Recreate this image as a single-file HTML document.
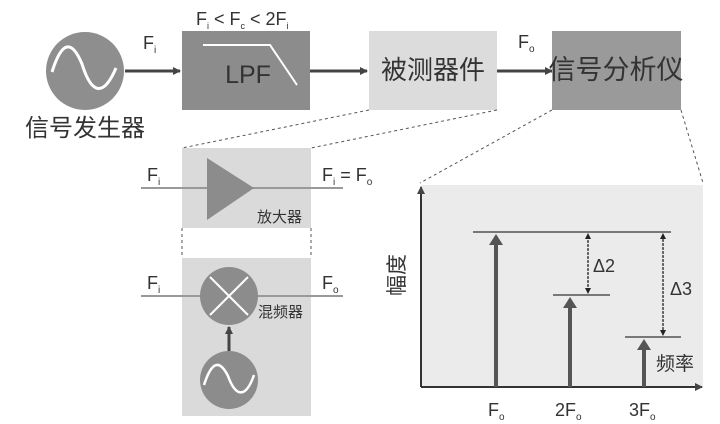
<!DOCTYPE html>
<html><head><meta charset="utf-8"><style>
body{margin:0;background:#fff;}
svg{display:block;font-family:"Liberation Sans","Noto Sans CJK SC",sans-serif;}
</style></head><body>
<svg width="720" height="424" viewBox="0 0 720 424" xmlns="http://www.w3.org/2000/svg">
<defs>
<marker id="ah" markerWidth="8" markerHeight="8" refX="7" refY="4" orient="auto" markerUnits="userSpaceOnUse"><path d="M0,0 L8,4 L0,8 z" fill="#444"/></marker>
<marker id="sa" markerWidth="6" markerHeight="6" refX="3" refY="3" orient="auto" markerUnits="userSpaceOnUse"><path d="M0,0 L6,3 L0,6 z" fill="#222"/></marker>
</defs>
<circle cx="85" cy="71" r="39" fill="#8e8e8e"/>
<path d="M52,72 C62,40 72,40 82,64 C92,96 104,96 116,68" stroke="#fff" stroke-width="3" fill="none"/>
<text x="85" y="136" font-size="24" fill="#333" text-anchor="middle">信号发生器</text>
<line x1="125" y1="71" x2="180" y2="71" stroke="#444" stroke-width="3" marker-end="url(#ah)"/>
<text x="143" y="49" font-size="18" fill="#333">F<tspan font-size="10" dy="4">i</tspan></text>
<rect x="182" y="31" width="128" height="79" fill="#8c8c8c"/>
<text x="196" y="25" font-size="18" fill="#333">F<tspan font-size="9" dy="4">i</tspan><tspan dy="-4"> &lt; F</tspan><tspan font-size="9" dy="4">c</tspan><tspan dy="-4"> &lt; 2F</tspan><tspan font-size="9" dy="4">i</tspan></text>
<path d="M203,45 L270,45 L297,85" stroke="#fff" stroke-width="2" fill="none"/>
<text x="248" y="83" font-size="25" fill="#333" text-anchor="middle">LPF</text>
<line x1="310" y1="71" x2="367" y2="71" stroke="#444" stroke-width="3" marker-end="url(#ah)"/>
<rect x="369" y="31" width="128" height="79" fill="#dcdcdc"/>
<text x="433" y="79" font-size="26" fill="#333" text-anchor="middle">被测器件</text>
<line x1="497" y1="71" x2="552" y2="71" stroke="#444" stroke-width="3" marker-end="url(#ah)"/>
<text x="518" y="48" font-size="18" fill="#333">F<tspan font-size="10" dy="4">o</tspan></text>
<rect x="552" y="31" width="129" height="79" fill="#9a9a9a"/>
<text x="616" y="79" font-size="27" fill="#333" text-anchor="middle">信号分析仪</text>
<g stroke="#555" stroke-width="1" stroke-dasharray="3,3" fill="none">
<line x1="369" y1="110" x2="182" y2="148"/>
<line x1="497" y1="110" x2="311" y2="148"/>
<line x1="552" y1="110" x2="420" y2="183"/>
<line x1="681" y1="110" x2="703" y2="183"/>
<line x1="182" y1="228" x2="182" y2="258"/>
<line x1="311" y1="228" x2="311" y2="258"/>
</g>
<rect x="182" y="148" width="129" height="80" fill="#dadada"/>
<line x1="141" y1="188" x2="343" y2="188" stroke="#999" stroke-width="2"/>
<path d="M207,158 L207,220 L254,188 z" fill="#8c8c8c"/>
<text x="257" y="222" font-size="15" fill="#333">放大器</text>
<text x="147" y="181" font-size="18" fill="#333">F<tspan font-size="10" dy="4">i</tspan></text>
<text x="322" y="181" font-size="18" fill="#333">F<tspan font-size="10" dy="4">i</tspan><tspan dy="-4"> = F</tspan><tspan font-size="10" dy="4">o</tspan></text>
<rect x="182" y="258" width="129" height="158" fill="#dadada"/>
<line x1="141" y1="296" x2="343" y2="296" stroke="#999" stroke-width="2"/>
<circle cx="229" cy="296" r="29" fill="#8c8c8c"/>
<path d="M210,277 L248,315 M248,277 L210,315" stroke="#fff" stroke-width="2"/>
<text x="258" y="317" font-size="15" fill="#333">混频器</text>
<text x="147" y="289" font-size="18" fill="#333">F<tspan font-size="10" dy="4">i</tspan></text>
<text x="322" y="289" font-size="18" fill="#333">F<tspan font-size="10" dy="4">o</tspan></text>
<line x1="229" y1="351" x2="229" y2="327" stroke="#444" stroke-width="3" marker-end="url(#ah)"/>
<circle cx="229" cy="380" r="29" fill="#8c8c8c"/>
<path d="M204,385 C212,360 220,360 228,376 C236,398 246,398 254,375" stroke="#fff" stroke-width="2.5" fill="none"/>
<rect x="421" y="185" width="282" height="202" fill="#ebebeb"/>
<line x1="421" y1="387" x2="421" y2="187" stroke="#333" stroke-width="2" marker-end="url(#ah)"/>
<line x1="421" y1="387" x2="702" y2="387" stroke="#333" stroke-width="2" marker-end="url(#ah)"/>
<text transform="translate(404,275) rotate(-90)" font-size="21" fill="#333" text-anchor="middle">幅度</text>
<g stroke="#333" stroke-width="1.2">
<line x1="473" y1="232" x2="671" y2="232"/>
<line x1="553" y1="295" x2="610" y2="295"/>
<line x1="625" y1="337" x2="681" y2="337"/>
</g>
<g fill="#555">
<rect x="494" y="244" width="4" height="143"/><path d="M489,245 L496,234 L503,245 z"/>
<rect x="568" y="307" width="4" height="80"/><path d="M563,308 L570,297 L577,308 z"/>
<rect x="642" y="349" width="4" height="38"/><path d="M637,350 L644,339 L651,350 z"/>
</g>
<g stroke="#222" stroke-width="1.2" stroke-dasharray="2,2">
<line x1="588" y1="236" x2="588" y2="291" marker-end="url(#sa)"/>
<line x1="588" y1="291" x2="588" y2="236" marker-end="url(#sa)"/>
<line x1="663" y1="236" x2="663" y2="333" marker-end="url(#sa)"/>
<line x1="663" y1="333" x2="663" y2="236" marker-end="url(#sa)"/>
</g>
<text x="593" y="272" font-size="18" fill="#333">Δ2</text>
<text x="670" y="295" font-size="18" fill="#333">Δ3</text>
<text x="656" y="370" font-size="19" fill="#333">频率</text>
<text x="488" y="416" font-size="18" fill="#333">F<tspan font-size="10" dy="4">o</tspan></text>
<text x="555" y="416" font-size="18" fill="#333">2F<tspan font-size="10" dy="4">o</tspan></text>
<text x="629" y="416" font-size="18" fill="#333">3F<tspan font-size="10" dy="4">o</tspan></text>
</svg>
</body></html>
